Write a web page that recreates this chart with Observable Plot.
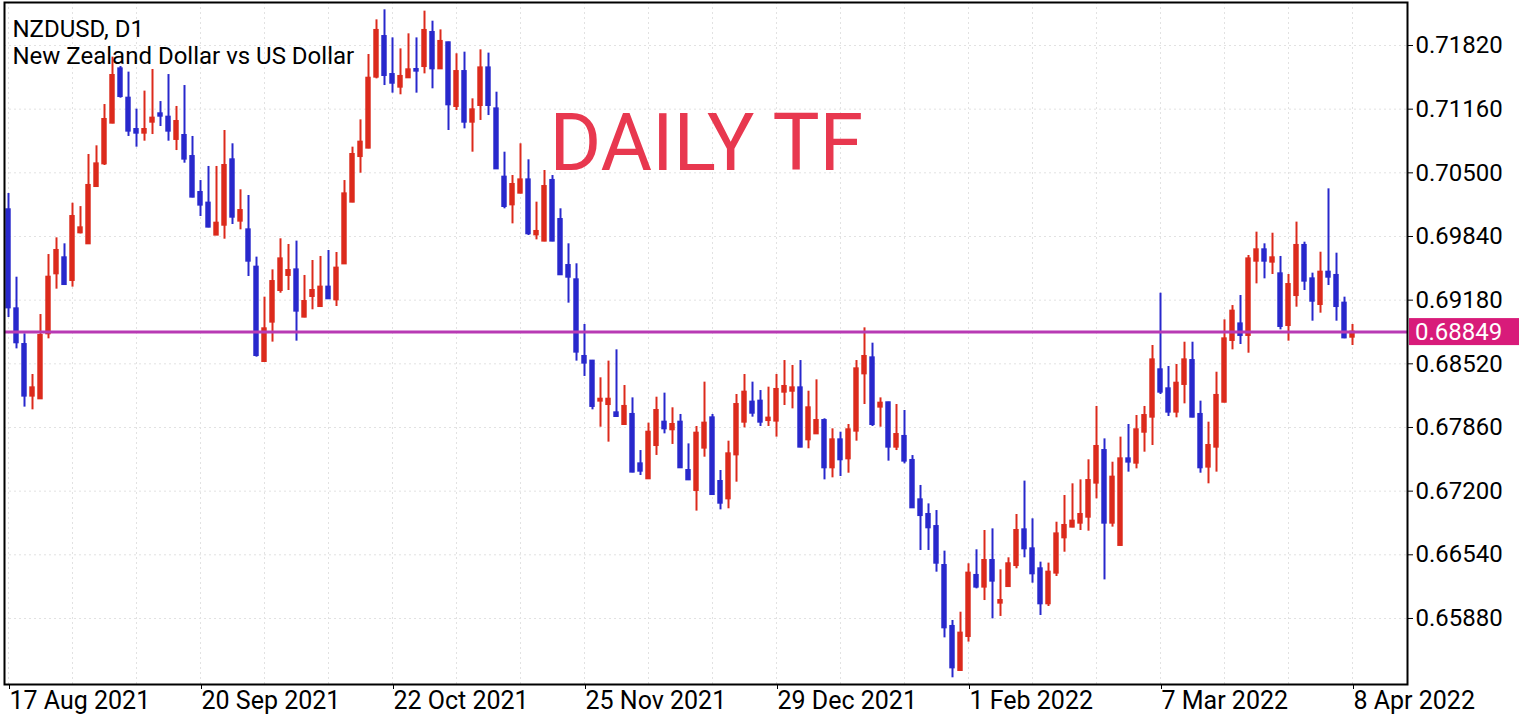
<!DOCTYPE html>
<html><head><meta charset="utf-8">
<script src="https://cdn.jsdelivr.net/npm/d3@7"></script>
<script src="https://cdn.jsdelivr.net/npm/@observablehq/plot@0.6"></script>
<style>html,body{margin:0;padding:0;background:#fff;} #chart{width:1538px;height:720px;}</style>
</head><body><div id="chart"></div>
<script>
const symbolTitle = "NZDUSD, D1";
const symbolDescription = "New Zealand Dollar vs US Dollar";
const annotation = "DAILY TF";
const dateTickIndex = [0, 24, 48, 72, 96, 120, 144, 168];
const dateTickLabels = ["17 Aug 2021", "20 Sep 2021", "22 Oct 2021", "25 Nov 2021", "29 Dec 2021", "1 Feb 2022", "7 Mar 2022", "8 Apr 2022"];
const priceTicks = [0.65880, 0.66540, 0.67200, 0.67860, 0.68520, 0.69180, 0.69840, 0.70500, 0.71160, 0.71820];
const lastPrice = 0.68849;

const open = [
0.70117,0.69090,0.68720,0.68185,0.68157,0.68831,0.69453,0.69619,0.69384,0.69878,
0.69764,0.70358,0.70593,0.71015,0.71578,0.71274,0.70949,0.70911,0.71025,0.71112,
0.71077,0.70846,0.70887,0.70669,0.70296,0.70186,0.69854,0.69957,0.70635,0.69999,
0.69909,0.69522,0.68544,0.68952,0.69280,0.69436,0.69494,0.69004,0.69218,0.69114,
0.69315,0.69183,0.69556,0.70196,0.70669,0.70756,0.71492,0.71913,0.71519,0.71388,
0.71485,0.71571,0.71602,0.71955,0.71578,0.71848,0.71188,0.71550,0.71025,0.71198,
0.71588,0.71163,0.70455,0.70168,0.70289,0.70427,0.69857,0.69792,0.70421,0.70016,
0.69539,0.69391,0.68596,0.68548,0.68133,0.68098,0.68012,0.67891,0.67995,0.67483,
0.67328,0.67673,0.67915,0.67836,0.67915,0.67414,0.67207,0.67646,0.67960,0.67300,
0.67120,0.67576,0.67915,0.68123,0.68133,0.67932,0.67926,0.68226,0.68236,0.68271,
0.67732,0.67794,0.67932,0.67442,0.67732,0.67535,0.67822,0.68416,0.68582,0.68071,
0.68116,0.67656,0.67767,0.67518,0.67110,0.66958,0.66833,0.66429,0.65797,0.65341,
0.65693,0.66326,0.66205,0.66481,0.66039,0.66211,0.66429,0.66799,0.66602,0.66395,
0.66032,0.66350,0.66716,0.66827,0.66868,0.66930,0.67283,0.67621,0.66868,0.66637,
0.67535,0.67490,0.67811,0.67967,0.68458,0.68261,0.68019,0.68306,0.68554,0.67995,
0.67449,0.67656,0.68122,0.68762,0.68934,0.68814,0.69584,0.69702,0.69574,0.69453,
0.68917,0.69228,0.69747,0.69401,0.69135,0.69470,0.69436,0.69149,0.68796];
const high = [
0.70286,0.69418,0.68831,0.68409,0.69031,0.69653,0.69826,0.69764,0.70185,0.70150,
0.70690,0.70780,0.71208,0.71699,0.71602,0.71544,0.71160,0.71347,0.71571,0.71239,
0.71519,0.71188,0.71405,0.70877,0.70420,0.70566,0.70566,0.70939,0.70801,0.70324,
0.70265,0.69626,0.69211,0.69494,0.69816,0.69757,0.69792,0.69436,0.69591,0.69633,
0.69695,0.69674,0.70420,0.70766,0.71049,0.71727,0.72086,0.72190,0.71899,0.71785,
0.71941,0.71899,0.72176,0.72072,0.71982,0.71855,0.71734,0.71751,0.71267,0.71775,
0.71741,0.71336,0.70714,0.70472,0.70801,0.70635,0.70196,0.70524,0.70472,0.70127,
0.69764,0.69557,0.68928,0.68555,0.68375,0.68548,0.68665,0.68295,0.68167,0.67621,
0.67905,0.68174,0.68216,0.68064,0.67995,0.67690,0.67870,0.68330,0.67995,0.67414,
0.67718,0.68202,0.68409,0.68330,0.68243,0.68278,0.68409,0.68554,0.68503,0.68554,
0.68236,0.68354,0.67950,0.67846,0.67811,0.67891,0.68554,0.68893,0.68734,0.68167,
0.68122,0.68098,0.68036,0.67569,0.67259,0.67068,0.66999,0.66578,0.65859,0.65945,
0.66447,0.66592,0.66792,0.66809,0.66384,0.66509,0.66958,0.67304,0.66913,0.66464,
0.66454,0.66878,0.67155,0.67276,0.67317,0.67525,0.68078,0.67742,0.67500,0.67760,
0.67891,0.67984,0.68078,0.68710,0.69252,0.68492,0.68513,0.68744,0.68744,0.68133,
0.67915,0.68433,0.68976,0.69124,0.69228,0.69643,0.69885,0.69764,0.69874,0.69633,
0.69446,0.69989,0.69781,0.69460,0.69677,0.70334,0.69667,0.69211,0.68928];
const low = [
0.69000,0.68675,0.68071,0.68043,0.68150,0.68779,0.69294,0.69332,0.69315,0.69867,
0.69757,0.70351,0.70576,0.71008,0.71274,0.70877,0.70766,0.70828,0.70897,0.70980,
0.70828,0.70731,0.70600,0.70240,0.70047,0.69930,0.69850,0.69812,0.69964,0.69909,
0.69425,0.68589,0.68534,0.68745,0.69252,0.69280,0.68755,0.68997,0.69080,0.69107,
0.69187,0.69114,0.69550,0.70190,0.70496,0.70749,0.71474,0.71405,0.71326,0.71309,
0.71480,0.71326,0.71526,0.71371,0.71571,0.70939,0.71146,0.70956,0.70714,0.71043,
0.71094,0.70535,0.70127,0.69971,0.70282,0.69850,0.69805,0.69785,0.69785,0.69436,
0.69149,0.68548,0.68389,0.68043,0.67863,0.67708,0.67967,0.67885,0.67390,0.67362,
0.67322,0.67570,0.67794,0.67684,0.67436,0.67310,0.66993,0.67552,0.67155,0.67006,
0.67017,0.67293,0.67856,0.67967,0.67870,0.67870,0.67760,0.68088,0.68053,0.67650,
0.67639,0.67790,0.67317,0.67338,0.67352,0.67386,0.67718,0.68098,0.67870,0.67863,
0.67511,0.67621,0.67483,0.67020,0.66585,0.66585,0.66360,0.65679,0.65265,0.65334,
0.65635,0.66187,0.66066,0.65876,0.65901,0.66205,0.66395,0.66509,0.66246,0.65911,
0.66004,0.66315,0.66567,0.66820,0.66792,0.66785,0.67120,0.66280,0.66827,0.66630,
0.67397,0.67431,0.67604,0.67673,0.68202,0.67974,0.67960,0.68105,0.67960,0.67386,
0.67276,0.67397,0.68115,0.68665,0.68720,0.68630,0.69349,0.69401,0.69446,0.68872,
0.68755,0.69107,0.69280,0.68962,0.69045,0.69332,0.68962,0.68780,0.68710];
const close = [
0.69100,0.68738,0.68185,0.68271,0.68814,0.69418,0.69695,0.69342,0.70047,0.69930,
0.70369,0.70593,0.71053,0.71509,0.71291,0.70932,0.70911,0.70949,0.71067,0.71087,
0.70932,0.71032,0.70642,0.70248,0.70165,0.69937,0.69978,0.70576,0.70040,0.70109,
0.69584,0.68606,0.68883,0.69373,0.69608,0.69487,0.69066,0.69166,0.69280,0.69315,
0.69194,0.69512,0.70282,0.70690,0.70818,0.71481,0.71976,0.71509,0.71429,0.71499,
0.71568,0.71554,0.71976,0.71578,0.71862,0.71205,0.71550,0.71025,0.71153,0.71588,
0.71198,0.70541,0.70151,0.70379,0.70427,0.69868,0.69892,0.70358,0.69792,0.69443,
0.69418,0.68641,0.68527,0.68078,0.68153,0.68153,0.67974,0.68078,0.67397,0.67407,
0.67811,0.68036,0.67846,0.67891,0.67442,0.67317,0.67801,0.67905,0.67165,0.67075,
0.67587,0.68098,0.68226,0.68008,0.67915,0.67957,0.68254,0.68285,0.68271,0.67656,
0.68064,0.67932,0.67442,0.67732,0.67525,0.67836,0.68468,0.68596,0.67891,0.68112,
0.67656,0.67787,0.67511,0.67027,0.66947,0.66820,0.66453,0.65783,0.65368,0.65728,
0.66350,0.66205,0.66481,0.66267,0.66066,0.66447,0.66792,0.66602,0.66343,0.66032,
0.66360,0.66757,0.66844,0.66889,0.66958,0.67310,0.67663,0.66868,0.67345,0.67535,
0.67501,0.67836,0.67984,0.68561,0.68226,0.68019,0.68319,0.68561,0.67967,0.67442,
0.67673,0.68192,0.68779,0.69066,0.68814,0.69608,0.69702,0.69584,0.69619,0.68907,
0.69342,0.69747,0.69377,0.69169,0.69470,0.69418,0.69114,0.68789,0.68849];

const UP = "#dc2a1c", DOWN = "#2828cc";
const candles = open.map((o, i) => ({i, open: o, high: high[i], low: low[i], close: close[i], color: close[i] >= o ? UP : DOWN}));

const chart = Plot.plot({
  width: 1538, height: 720,
  marginLeft: 4, marginRight: 131, marginTop: 2, marginBottom: 36,
  style: {fontFamily: "Roboto", fontSize: "24px", color: "#000", background: "#fff"},
  x: {type: "linear", domain: [-0.5, 174.875]},
  y: {domain: [0.651955, 0.722658]},
  color: {type: "identity"},
  marks: [
    Plot.ruleY(priceTicks, {stroke: "#e2e2e2", strokeDasharray: "2,3"}),
    Plot.ruleX(d3.range(0, 175, 8), {stroke: "#e2e2e2", strokeDasharray: "2,3"}),
    Plot.ruleX(candles, {x: "i", y1: "low", y2: "high", stroke: "color", strokeWidth: 2}),
    Plot.rect(candles, {x1: d => d.i - 0.34, x2: d => d.i + 0.34, y1: "open", y2: "close", fill: "color", insetTop: -1, insetBottom: -1}),
    Plot.ruleY([lastPrice], {stroke: "#b83ab4", strokeWidth: 3}),
    Plot.axisY(priceTicks, {anchor: "right", tickSize: 5, tickPadding: 3, tickFormat: d => d.toFixed(5), label: null, fontSize: 24}),
    Plot.axisX(dateTickIndex, {anchor: "bottom", tickSize: 5, tickPadding: 2, tickFormat: d => dateTickLabels[dateTickIndex.indexOf(d)], textAnchor: "start", dx: 1, label: null, fontSize: 25}),
    Plot.frame({stroke: "#000", strokeWidth: 2}),
    Plot.text([annotation], {frameAnchor: "top-left", dx: 545, dy: 111, lineAnchor: "top", fontSize: 79, fill: "#e8384f"}),
    Plot.text([symbolTitle], {frameAnchor: "top-left", dx: 8, dy: 17, lineAnchor: "top", fontSize: 24, fill: "#000"}),
    Plot.text([symbolDescription], {frameAnchor: "top-left", dx: 8, dy: 44, lineAnchor: "top", fontSize: 24, fill: "#000"})
  ]
});

const yPix = chart.scale("y").apply(lastPrice);
const tag = d3.select(chart).append("g").attr("text-anchor", "start");
tag.append("rect").attr("x", 1409).attr("y", yPix - 13.5).attr("width", 110).attr("height", 27).attr("fill", "#d81b7a");
tag.append("text").attr("x", 1415).attr("y", yPix).attr("dy", "0.36em").attr("fill", "#fff")
  .attr("font-size", 24).attr("font-family", "Roboto").attr("text-anchor", "start").text(lastPrice.toFixed(5));

document.getElementById("chart").appendChild(chart);
</script>
</body></html>
